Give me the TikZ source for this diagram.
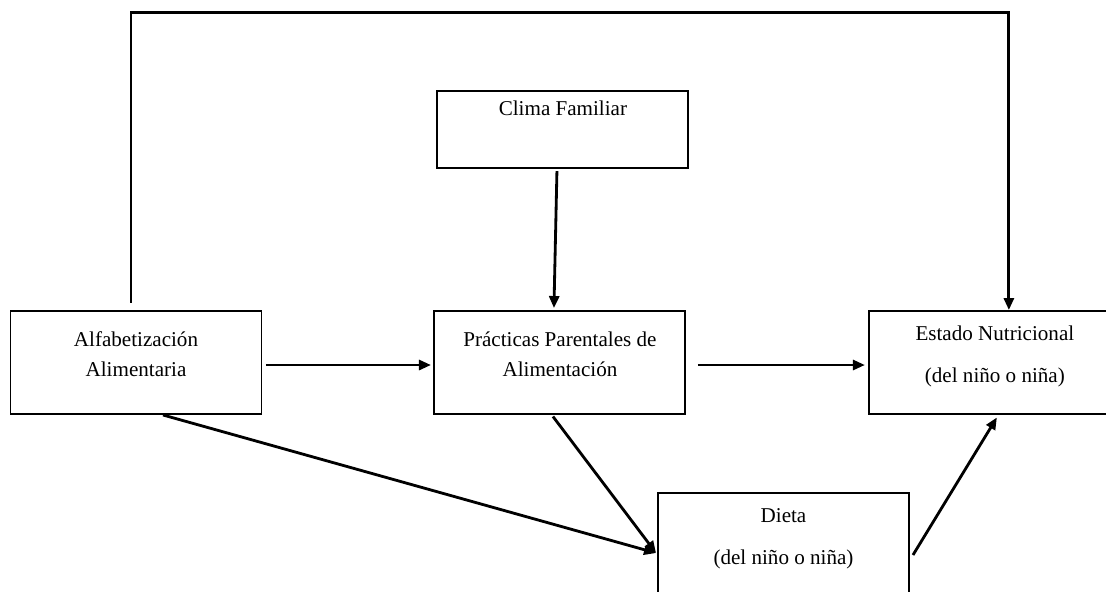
\documentclass[tikz,border=0pt]{standalone}
\usepackage{fontspec}
\setmainfont{Liberation Serif}
\usetikzlibrary{arrows.meta}
\usetikzlibrary{positioning}

\tikzset{
	caja/.style={draw, line width=1.1pt, minimum width=5.02cm, minimum height=2.06cm, inner sep=0pt},
	texto/.style={align=center, inner sep=0pt, font=\fontsize{12}{17}\selectfont},
	flecha/.style={line width=1.6pt, -{Triangle[length=2.4mm,width=2mm]}}
}

\begin{document}
\begin{tikzpicture}
\clip (0,0) rectangle (22.12,-11.82);
% cajas
\node [caja] (alf) at (2.72,-7.25) {};
\node [caja, right=3.42cm of alf] (prac) {};
\node [caja, above=2.82cm of prac, xshift=0.6mm, minimum height=1.54cm] (clima) {};
\node [caja, right=3.64cm of prac] (est) {};
\node [caja] (dieta) at (15.67,-10.89) {};

% textos
\node [texto] (alftxt) at ([yshift=1.6mm]alf.center) {Alfabetización\\Alimentaria};
\node [texto] (practxt) at ([yshift=1.7mm]prac.center) {Prácticas Parentales de\\Alimentación};
\node [texto] (climatxt) at ([yshift=4.3mm]clima.center) {Clima Familiar};
\node [texto] (esttxt) at ([yshift=1.2mm]est.center) {Estado Nutricional\\[7pt](del niño o niña)};
\node [texto] (dietatxt) at ([yshift=1.2mm]dieta.center) {Dieta\\[7pt](del niño o niña)};

% flechas
\draw [flecha] ([xshift=-1mm,yshift=1.5mm]alf.north) -- ++(0,5.8) -| ([xshift=2.8mm]est.north);
\draw [flecha] ([xshift=-1.2mm,yshift=-0.4mm]clima.south) -- ([xshift=-1.2mm,yshift=0.4mm]prac.north);
\draw [flecha] ([xshift=0.7mm,yshift=-0.5mm]alf.east) -- ([xshift=-0.5mm,yshift=-0.5mm]prac.west);
\draw [flecha] ([xshift=2.3mm,yshift=-0.5mm]prac.east) -- ([xshift=-0.7mm,yshift=-0.5mm]est.west);
\draw [flecha] ([xshift=5.4mm]alf.south) -- ([xshift=-0.2mm,yshift=-1.7mm]dieta.west);
\draw [flecha] ([xshift=-1.4mm,yshift=-0.3mm]prac.south) -- ([xshift=-0.2mm,yshift=-1.7mm]dieta.west);
\draw [flecha] ([xshift=0.6mm,yshift=-2.1mm]dieta.east) -- ([xshift=0.4mm,yshift=-0.5mm]est.south);

\end{tikzpicture}
\end{document}
